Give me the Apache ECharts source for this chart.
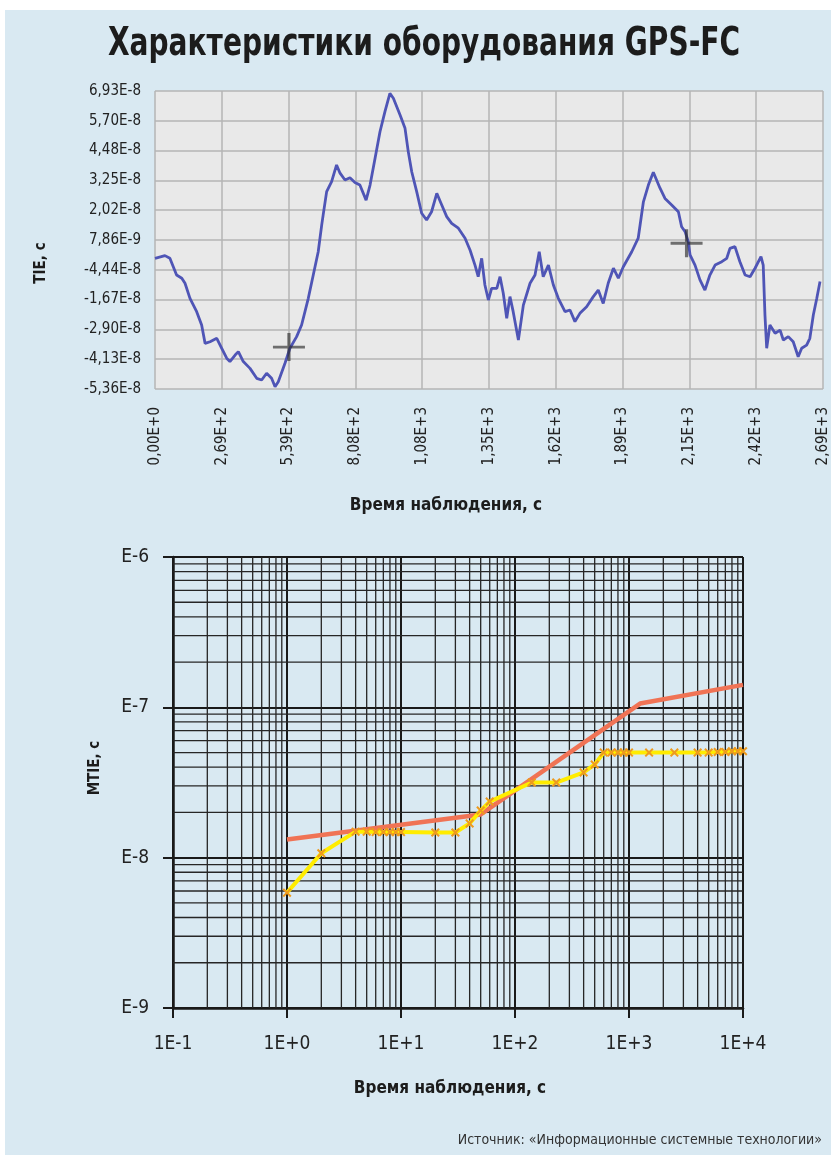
<!DOCTYPE html>
<html>
<head>
<meta charset="utf-8">
<script src="https://cdn.jsdelivr.net/npm/echarts@6/dist/echarts.min.js"></script>
<style>
html, body { margin: 0; padding: 0; background: #fff; }
#main {
    width: 831px;
    height: 1155px;
    background:
        linear-gradient(#fff, #fff) top left / 100% 10px no-repeat,
        linear-gradient(#fff, #fff) top left / 5px 100% no-repeat,
        #d9e9f2;
}
</style>
</head>
<body>
<div id="main"></div>
<script>
// TIE: time (s) and time interval error (ns)
var tieTime = [0, 40, 60, 87, 108, 121, 141, 168, 188, 202,
    222, 249, 269, 289, 302, 323, 336, 356, 383, 410,
    430, 450, 470, 484, 497, 524, 544, 571, 591, 618,
    638, 658, 672, 678, 692, 712, 732, 746, 766, 786,
    806, 826, 851, 867, 887, 907, 927, 947, 961, 988,
    1008, 1021, 1035, 1055, 1075, 1095, 1115, 1136, 1156, 1176,
    1196, 1223, 1250, 1270, 1290, 1303, 1317, 1330, 1344, 1357,
    1378, 1391, 1404, 1418, 1431, 1444, 1465, 1485, 1512, 1532,
    1549, 1565, 1586, 1606, 1626, 1653, 1673, 1693, 1713, 1740,
    1767, 1787, 1807, 1827, 1848, 1868, 1888, 1922, 1948, 1969,
    1989, 2009, 2036, 2056, 2083, 2110, 2123, 2137, 2150, 2157,
    2177, 2197, 2217, 2237, 2258, 2285, 2305, 2318, 2338, 2358,
    2379, 2399, 2419, 2443, 2452, 2459, 2466, 2479, 2500, 2520,
    2533, 2553, 2573, 2593, 2607, 2627, 2640, 2654, 2668, 2681];
var tieNs = [0.3, 1.4, 0.3, -6.6, -7.9, -10.0, -16.2, -21.7, -27.2, -34.8,
    -34.1, -32.7, -36.8, -40.9, -42.3, -39.6, -38.2, -42.3, -45.1, -49.2,
    -49.9, -47.1, -49.2, -52.7, -50.6, -43.0, -36.8, -32.0, -27.2, -16.2,
    -6.6, 3.0, 14.0, 18.2, 27.8, 31.9, 38.8, 35.4, 32.6, 33.5,
    31.6, 30.5, 24.3, 30.5, 41.5, 52.5, 60.8, 68.3, 66.3, 59.4,
    53.9, 44.3, 36.0, 27.8, 18.9, 16.1, 19.5, 27.1, 22.3, 17.5,
    14.7, 12.7, 8.6, 3.7, -2.5, -7.3, 0.3, -10.7, -16.9, -12.1,
    -12.1, -7.3, -14.1, -24.4, -15.5, -21.7, -33.4, -19.0, -10.0, -6.6,
    3.0, -7.3, -2.5, -10.7, -16.2, -21.7, -21.0, -25.8, -22.4, -19.7,
    -15.5, -12.8, -18.3, -10.0, -3.8, -7.9, -3.2, 3.0, 8.6, 23.6,
    30.5, 35.8, 29.2, 25.0, 22.3, 19.5, 13.3, 11.3, 7.1, 1.7,
    -2.5, -8.6, -12.8, -6.6, -2.5, -1.1, 0.3, 4.4, 5.1, -1.1,
    -6.6, -7.3, -3.8, 1.0, -2.5, -23.1, -36.8, -27.2, -30.6, -29.3,
    -33.4, -32.0, -34.1, -40.3, -36.8, -35.5, -32.7, -23.1, -16.2, -9.3];
// cursor crosses on the TIE curve
var cursorTime = [540, 2143];
var cursorNs = [-36.3, 6.5];

// TIE axis: 10 equal steps of 12.29 ns from -53.6 ns
var tieMin = -53.6;
var tieStep = 12.29;
var tieYLabels = ['-5,36E-8', '-4,13E-8', '-2,90E-8', '-1,67E-8', '-4,44E-8', '7,86E-9',
    '2,02E-8', '3,25E-8', '4,48E-8', '5,70E-8', '6,93E-8'];
var tieXStep = 269.3;
var tieXLabels = ['0,00E+0', '2,69E+2', '5,39E+2', '8,08E+2', '1,08E+3', '1,35E+3',
    '1,62E+3', '1,89E+3', '2,15E+3', '2,42E+3', '2,69E+3'];

// MTIE: observation interval (s) and MTIE (s)
var tauRed = [1, 50, 1250, 10000];
var mtieRed = [1.32e-8, 1.94e-8, 1.06e-7, 1.41e-7];
var tauYellow = [1, 2, 4, 5, 6, 7, 8, 9, 10, 20, 30, 40, 50, 60, 140, 230, 400, 500,
    600, 700, 800, 900, 1000, 1500, 2500, 4000, 5000, 6000, 7000, 8000, 9000, 10000];
var mtieYellow = [5.85e-9, 1.07e-8, 1.49e-8, 1.49e-8, 1.48e-8, 1.48e-8, 1.48e-8, 1.48e-8, 1.48e-8,
    1.47e-8, 1.47e-8, 1.69e-8, 2.06e-8, 2.36e-8, 3.16e-8, 3.16e-8, 3.69e-8, 4.17e-8,
    5.0e-8, 5.0e-8, 5.0e-8, 5.0e-8, 5.0e-8, 5.0e-8, 5.0e-8, 5.0e-8, 5.0e-8,
    5.05e-8, 5.05e-8, 5.1e-8, 5.1e-8, 5.1e-8];
var mtieXLabels = ['1E-1', '1E+0', '1E+1', '1E+2', '1E+3', '1E+4'];
var mtieYLabels = ['E-9', 'E-8', 'E-7', 'E-6'];

var narrow = '"Liberation Sans Narrow", "DejaVu Sans Condensed", sans-serif';

var myChart = echarts.init(document.getElementById('main'));

function zip(a, b, f) {
    return a.map(function (v, i) { return [v, f ? f(b[i]) : b[i]]; });
}
function toTick(ns) { return (ns - tieMin) / tieStep; }

// minor log grid lines (2..9 in each decade), drawn as plain line series
var gridSeries = [];
function gridLine(p0, p1) {
    gridSeries.push({
        type: 'line', xAxisIndex: 1, yAxisIndex: 1,
        data: [p0, p1], showSymbol: false, silent: true, z: 1,
        lineStyle: { color: '#262626', width: 1.3 }
    });
}
[0.1, 1, 10, 100, 1000].forEach(function (d) {
    for (var m = 2; m <= 9; m++) gridLine([m * d, 1e-9], [m * d, 1e-6]);
});
[1e-9, 1e-8, 1e-7].forEach(function (d) {
    for (var m = 2; m <= 9; m++) gridLine([0.1, m * d], [10000, m * d]);
});

var crossPath = 'path://M0,4.5H10V5.5H0Z M4.5,0H5.5V10H4.5Z';
var xPath = 'path://M0,1.6L1.6,0L5,3.4L8.4,0L10,1.6L6.6,5L10,8.4L8.4,10L5,6.6L1.6,10L0,8.4L3.4,5Z';

option = {
    animation: false,
    grid: [{
        left: 155, top: 91, width: 668, height: 298,
        show: true, backgroundColor: '#e9e9e9', borderWidth: 0
    }, {
        left: 173, top: 557, width: 570, height: 451
    }],
    xAxis: [{
        gridIndex: 0,
        type: 'value',
        min: 0,
        max: 2693,
        interval: tieXStep,
        axisLine: { show: false },
        axisTick: { show: false },
        splitLine: { lineStyle: { color: '#b4b4b4', width: 1.5 } },
        axisLabel: {
            rotate: 90,
            margin: 18,
            fontFamily: narrow,
            fontSize: 15,
            color: '#222',
            formatter: function (v) { return tieXLabels[Math.round(v / tieXStep)]; }
        }
    }, {
        gridIndex: 1,
        type: 'log',
        logBase: 10,
        min: 0.1,
        max: 10000,
        axisLine: { show: true, lineStyle: { color: '#1a1a1a', width: 2.5 } },
        axisTick: { show: true, length: 10, lineStyle: { color: '#1a1a1a', width: 2 } },
        splitLine: { show: true, lineStyle: { color: '#1a1a1a', width: 2 } },
        axisLabel: {
            margin: 27,
            fontFamily: narrow,
            fontSize: 19,
            color: '#222',
            formatter: function (v) { return mtieXLabels[Math.round(Math.log10(v)) + 1]; }
        }
    }],
    yAxis: [{
        gridIndex: 0,
        type: 'value',
        min: 0,
        max: 10,
        interval: 1,
        axisLine: { show: false },
        axisTick: { show: false },
        splitLine: { lineStyle: { color: '#b4b4b4', width: 1.5 } },
        axisLabel: {
            margin: 14,
            fontFamily: narrow,
            fontSize: 15,
            color: '#222',
            formatter: function (v) { return tieYLabels[Math.round(v)]; }
        }
    }, {
        gridIndex: 1,
        type: 'log',
        logBase: 10,
        min: 1e-9,
        max: 1e-6,
        axisLine: { show: true, lineStyle: { color: '#1a1a1a', width: 2.5 } },
        axisTick: { show: true, length: 10, lineStyle: { color: '#1a1a1a', width: 2 } },
        splitLine: { show: true, lineStyle: { color: '#1a1a1a', width: 2 } },
        axisLabel: {
            margin: 24,
            fontFamily: narrow,
            fontSize: 19,
            color: '#222',
            formatter: function (v) { return mtieYLabels[Math.round(Math.log10(v)) + 9]; }
        }
    }],
    series: gridSeries.concat([{
        name: 'TIE',
        type: 'line',
        xAxisIndex: 0,
        yAxisIndex: 0,
        data: zip(tieTime, tieNs, toTick),
        showSymbol: false,
        lineStyle: { color: '#4f55b6', width: 2.8 },
        z: 3
    }, {
        name: 'cursor',
        type: 'scatter',
        xAxisIndex: 0,
        yAxisIndex: 0,
        data: zip(cursorTime, cursorNs, toTick),
        symbol: crossPath,
        symbolSize: [32, 28],
        itemStyle: { color: 'rgba(40,40,40,0.8)' },
        z: 4
    }, {
        name: 'limit',
        type: 'line',
        xAxisIndex: 1,
        yAxisIndex: 1,
        data: zip(tauRed, mtieRed),
        showSymbol: false,
        lineStyle: { color: '#f07355', width: 4.5 },
        z: 3
    }, {
        name: 'MTIE',
        type: 'line',
        xAxisIndex: 1,
        yAxisIndex: 1,
        data: zip(tauYellow, mtieYellow),
        symbol: xPath,
        symbolSize: 9,
        showAllSymbol: true,
        itemStyle: { color: '#ee9a1e' },
        lineStyle: { color: '#ffec00', width: 4 },
        z: 4
    }]),
    graphic: [{
        type: 'text', x: 424, y: 45, scaleX: 0.8,
        style: {
            text: 'Характеристики оборудования GPS-FC',
            font: 'bold 39px ' + narrow,
            fill: '#1c1c1c', align: 'center', verticalAlign: 'middle'
        }
    }, {
        type: 'text', x: 41, y: 263, rotation: Math.PI / 2,
        style: {
            text: 'TIE, с', font: 'bold 15px ' + narrow,
            fill: '#1c1c1c', align: 'center', verticalAlign: 'middle'
        }
    }, {
        type: 'text', x: 446, y: 506,
        style: {
            text: 'Время наблюдения, с', font: 'bold 17px ' + narrow,
            fill: '#1c1c1c', align: 'center', verticalAlign: 'middle'
        }
    }, {
        type: 'text', x: 95, y: 768, rotation: Math.PI / 2,
        style: {
            text: 'MTIE, с', font: 'bold 15px ' + narrow,
            fill: '#1c1c1c', align: 'center', verticalAlign: 'middle'
        }
    }, {
        type: 'text', x: 450, y: 1089,
        style: {
            text: 'Время наблюдения, с', font: 'bold 17px ' + narrow,
            fill: '#1c1c1c', align: 'center', verticalAlign: 'middle'
        }
    }, {
        type: 'text', x: 822, y: 1140,
        style: {
            text: 'Источник: «Информационные системные технологии»',
            font: '14px "DejaVu Sans Condensed", sans-serif',
            fill: '#333', align: 'right', verticalAlign: 'middle'
        }
    }]
};

myChart.setOption(option);
</script>
</body>
</html>
